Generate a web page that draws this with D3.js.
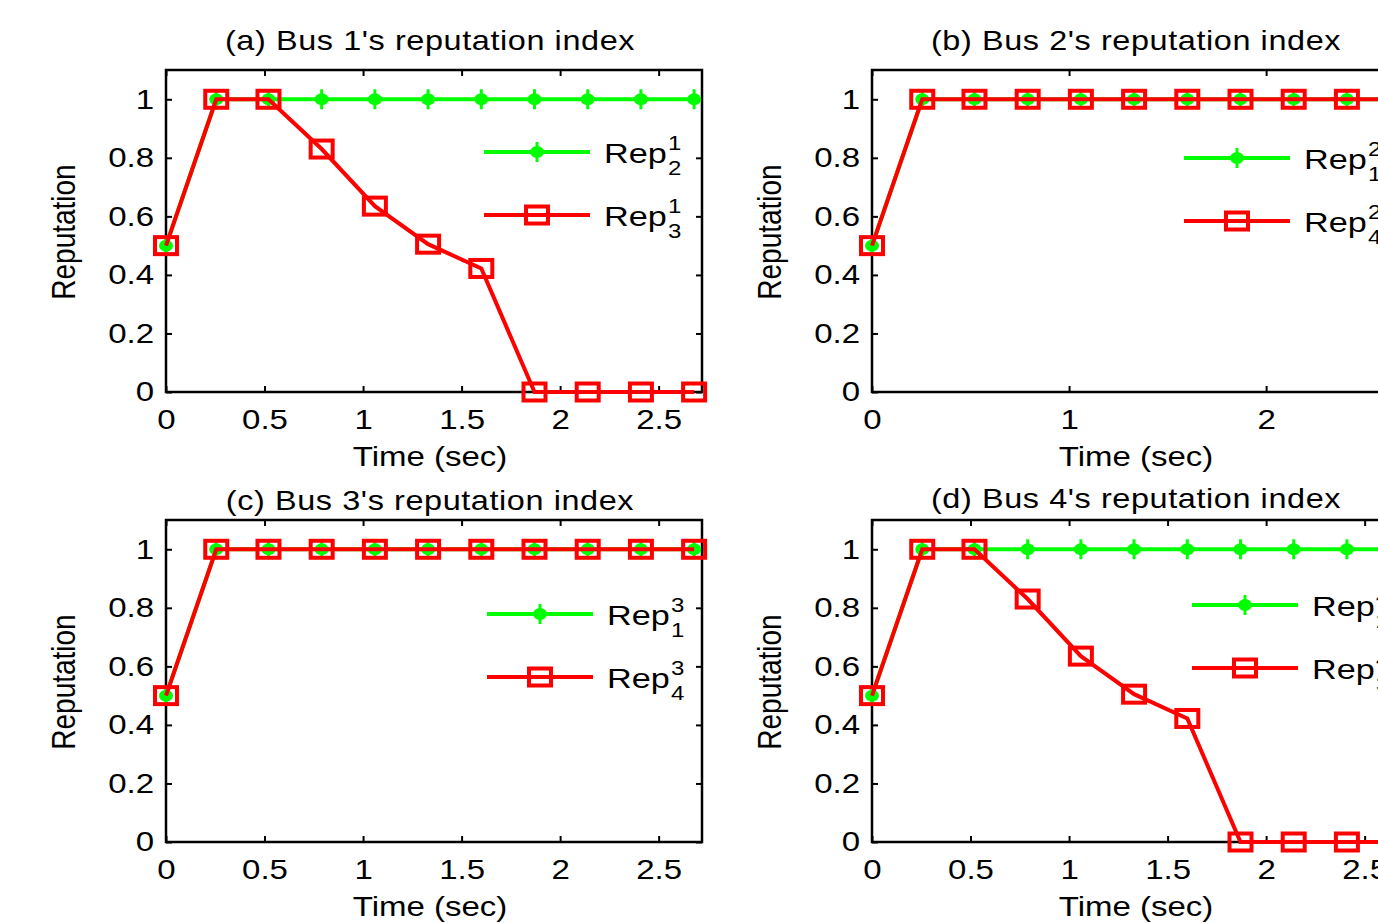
<!DOCTYPE html>
<html>
<head>
<meta charset="utf-8">
<script src="https://cdn.jsdelivr.net/npm/d3@7"></script>
<style>
  body { margin: 0; background: #fff; overflow: hidden; }
  svg text { font-family: "Liberation Sans", Arial, sans-serif; fill: #000; }
</style>
</head>
<body>
<div id="display"></div>
<script>
// sample times (sec) and reputation values
const times = [0, 0.255, 0.52, 0.79, 1.06, 1.33, 1.6, 1.87, 2.14, 2.41, 2.68];
const repDrop = [0.5, 1, 1, 0.83, 0.635, 0.505, 0.422, 0, 0, 0, 0];
const repFull = [0.5, 1, 1, 1, 1, 1, 1, 1, 1, 1, 1];

const titles = ["(a) Bus 1's reputation index", "(b) Bus 2's reputation index",
  "(c) Bus 3's reputation index", "(d) Bus 4's reputation index"];
const greenSeries = [repFull, repFull, repFull, repFull];
const redSeries = [repDrop, repFull, repFull, repDrop];
// [superscript, subscript]
const greenNames = [["1", "2"], ["2", "1"], ["3", "1"], ["4", "2"]];
const redNames = [["1", "3"], ["2", "4"], ["3", "4"], ["4", "3"]];
const xTickSets = [[0, 0.5, 1, 1.5, 2, 2.5], [0, 1, 2, 3], [0, 0.5, 1, 1.5, 2, 2.5], [0, 0.5, 1, 1.5, 2, 2.5]];
const yTicks = [0, 0.2, 0.4, 0.6, 0.8, 1];
const xDomain = [0, 2.72];
const yDomain = [0, 1.1];

// layout of the four panels (left, top), title offset and legend placement relative to the panel
const panels = [
  {x: 166, y: 70, titleY: -20, legX: 318, legY: 82},
  {x: 872, y: 70, titleY: -20, legX: 312, legY: 88},
  {x: 166, y: 520, titleY: -10, legX: 321, legY: 94},
  {x: 872, y: 520, titleY: -12, legX: 320, legY: 85}
];
const pw = 536, ph = 322;
const sx = 1.2; // horizontal stretch of the original figure
const fs = 27.5;
const GREEN = '#00ff00', RED = '#ff0000';

const svg = d3.select('#display').append('svg')
  .attr('width', 1378).attr('height', 923)
  .style('background', '#fff');

const fmt = d => d3.format('~g')(d);

panels.forEach((p, i) => {
  const g = svg.append('g').attr('transform', `translate(${p.x},${p.y})`);
  const x = d3.scaleLinear().domain(xDomain).range([0, pw]);
  const y = d3.scaleLinear().domain(yDomain).range([ph, 0]);

  // axes, ticks pointing inward
  const bottom = g.append('g').attr('transform', `translate(0,${ph})`)
    .call(d3.axisBottom(x).tickValues(xTickSets[i]).tickSize(-6).tickPadding(17).tickFormat(fmt));
  const left = g.append('g')
    .call(d3.axisLeft(y).tickValues(yTicks).tickSize(-6).tickPadding(12).tickFormat(fmt));
  g.append('g').call(d3.axisTop(x).tickValues(xTickSets[i]).tickSize(-6).tickFormat(''));
  g.append('g').attr('transform', `translate(${pw},0)`)
    .call(d3.axisRight(y).tickValues(yTicks).tickSize(-6).tickFormat(''));
  g.selectAll('.domain').remove();
  g.selectAll('.tick line').attr('stroke', '#000').attr('stroke-width', 2);
  g.selectAll('.tick text').style('font-size', fs + 'px')
    .style('font-family', '"Liberation Sans", Arial, sans-serif');
  bottom.selectAll('.tick text').attr('transform', `scale(${sx},1)`);
  left.selectAll('.tick text').each(function() {
    const t = d3.select(this);
    const xx = +t.attr('x');
    t.attr('x', xx / sx).attr('transform', `scale(${sx},1)`);
  });

  g.append('rect').attr('width', pw).attr('height', ph)
    .attr('fill', 'none').attr('stroke', '#000').attr('stroke-width', 2.5);

  // title and axis labels
  g.append('text')
    .attr('transform', `translate(${pw / 2 - 4},${p.titleY}) scale(${sx},1)`)
    .attr('text-anchor', 'middle').style('font-size', '27px')
    .style('letter-spacing', '0.5px')
    .text(titles[i]);
  g.append('text')
    .attr('transform', `translate(${pw / 2 - 4},${ph + 74}) scale(${sx},1)`)
    .attr('text-anchor', 'middle').style('font-size', fs + 'px')
    .text('Time (sec)');
  g.append('text')
    .attr('transform', `translate(-91,${ph / 2 + 1}) rotate(-90) scale(1,${sx})`)
    .attr('text-anchor', 'middle').style('font-size', '28px')
    .text('Reputation');

  const line = d3.line().x((d, k) => x(times[k])).y(d => y(d));

  // green series with star-like markers
  g.append('path').datum(greenSeries[i]).attr('d', line)
    .attr('fill', 'none').attr('stroke', GREEN).attr('stroke-width', 4);
  const gm = g.append('g').selectAll('g').data(greenSeries[i]).join('g')
    .attr('transform', (d, k) => `translate(${x(times[k])},${y(d)})`);
  greenMarker(gm);

  // red series with hollow squares
  g.append('path').datum(redSeries[i]).attr('d', line)
    .attr('fill', 'none').attr('stroke', RED).attr('stroke-width', 4);
  g.append('g').selectAll('rect').data(redSeries[i]).join('rect')
    .attr('x', (d, k) => x(times[k]) - 11).attr('y', d => y(d) - 8.5)
    .attr('width', 22).attr('height', 17)
    .attr('fill', 'none').attr('stroke', RED).attr('stroke-width', 4);

  // legend (no box)
  const leg = g.append('g').attr('transform', `translate(${p.legX},${p.legY})`);
  legendEntry(leg, 0, 'green', greenNames[i]);
  legendEntry(leg, 63, 'red', redNames[i]);
});

function greenMarker(sel) {
  sel.append('ellipse').attr('rx', 7).attr('ry', 6).attr('fill', GREEN);
  sel.append('line').attr('y1', -10).attr('y2', 10)
    .attr('stroke', GREEN).attr('stroke-width', 3);
}

function legendEntry(leg, dy, kind, names) {
  const col = kind === 'green' ? GREEN : RED;
  leg.append('line').attr('x1', 0).attr('x2', 106).attr('y1', dy).attr('y2', dy)
    .attr('stroke', col).attr('stroke-width', 4);
  if (kind === 'green') {
    greenMarker(leg.append('g').attr('transform', `translate(53,${dy})`));
  } else {
    leg.append('rect').attr('x', 42).attr('y', dy - 8.5).attr('width', 22).attr('height', 17)
      .attr('fill', 'none').attr('stroke', RED).attr('stroke-width', 4);
  }
  const t = leg.append('g').attr('transform', `translate(120,${dy}) scale(${sx},1)`);
  const rep = t.append('text').attr('y', 11).style('font-size', '28.5px').text('Rep');
  const w = rep.node().getComputedTextLength();
  t.append('text').attr('x', w + 1).attr('y', -2).style('font-size', '20px').text(names[0]);
  t.append('text').attr('x', w + 1).attr('y', 23).style('font-size', '20px').text(names[1]);
}
</script>
</body>
</html>
